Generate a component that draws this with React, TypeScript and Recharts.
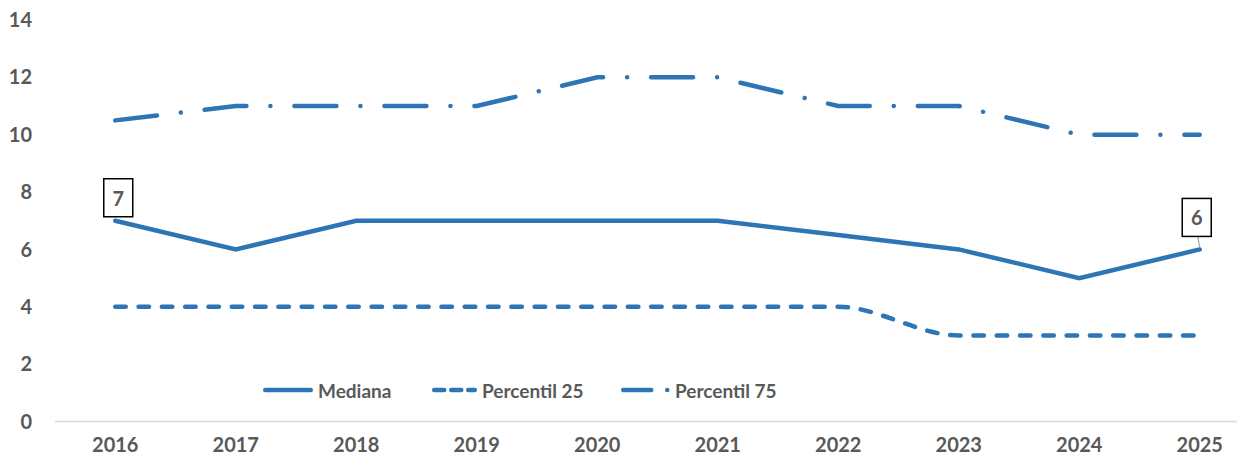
import React from 'react';
import { LineChart, Line, XAxis, YAxis } from 'recharts';

const years = ['2016', '2017', '2018', '2019', '2020', '2021', '2022', '2023', '2024', '2025'];
const mediana = [7, 6, 7, 7, 7, 7, 6.5, 6, 5, 6];
const percentil25 = [4, 4, 4, 4, 4, 4, 4, 3, 3, 3];
const percentil75 = [10.5, 11, 11, 11, 12, 12, 11, 11, 10, 10];
const yTicks = [0, 2, 4, 6, 8, 10, 12, 14];

const data = years.map((year, i) => ({
    year,
    Mediana: mediana[i],
    P25: percentil25[i],
    P75: percentil75[i],
}));

const BLUE = '#2E75B6';
const TEXT = '#595959';
const FONT = 'Lato, "Open Sans", sans-serif';

const tickStyle = { fill: TEXT, fontSize: 20, fontWeight: 700, fontFamily: FONT };

// boxed labels on first and last point of the median
const MedianLabel = (props: any) => {
    const { x, y, index, value } = props;
    if (index !== 0 && index !== years.length - 1) return null;
    const first = index === 0;
    const cx = first ? x + 3 : x - 3;
    const top = first ? y - 42 : y - 51;
    return (
        <g>
            {!first && <line x1={x - 2} y1={y - 13} x2={x} y2={y - 2} stroke="#a6a6a6" strokeWidth={1.2} />}
            <rect x={cx - 14.5} y={top} width={29} height={38} fill="#fff" stroke="#000" strokeWidth={1.5} />
            <text x={cx} y={top + 19} textAnchor="middle" dominantBaseline="central" style={tickStyle}>
                {value}
            </text>
        </g>
    );
};

const legendItems = [
    { name: 'Mediana', left: 263, width: 50, dash: undefined },
    { name: 'Percentil 25', left: 432, width: 45, dash: '10 7' },
    { name: 'Percentil 75', left: 621, width: 49, dash: '28 16 0.01 30' },
];

export default function App() {
    return (
        <div style={{ position: 'absolute', left: 0, top: 0, width: 1237, height: 463, overflow: 'hidden', background: '#fff' }}>
            <LineChart width={1260} height={463} data={data} margin={{ top: 20, right: 0, bottom: 0, left: 0 }}>
                <XAxis
                    dataKey="year"
                    scale="band"
                    height={41.5}
                    tickLine={false}
                    axisLine={{ stroke: '#d9d9d9', strokeWidth: 1.5 }}
                    tick={tickStyle}
                    tickMargin={10}
                />
                <YAxis
                    domain={[0, 14]}
                    ticks={yTicks}
                    width={55}
                    axisLine={false}
                    tickLine={false}
                    tick={tickStyle}
                    tickMargin={17}
                />
                <Line
                    type="linear"
                    dataKey="P75"
                    stroke={BLUE}
                    strokeWidth={4.5}
                    strokeLinecap="round"
                    strokeDasharray="42 24 0.01 24"
                    dot={false}
                    isAnimationActive={false}
                />
                <Line
                    type="monotone"
                    dataKey="P25"
                    stroke={BLUE}
                    strokeWidth={4.5}
                    strokeLinecap="round"
                    strokeDasharray="10.5 12.8"
                    dot={false}
                    isAnimationActive={false}
                />
                <Line
                    type="linear"
                    dataKey="Mediana"
                    stroke={BLUE}
                    strokeWidth={4.5}
                    strokeLinecap="round"
                    dot={false}
                    label={<MedianLabel />}
                    isAnimationActive={false}
                />
            </LineChart>
            {legendItems.map(item => (
                <div
                    key={item.name}
                    style={{ position: 'absolute', left: item.left, top: 377, height: 26, display: 'flex', alignItems: 'center' }}
                >
                    <svg width={item.width} height={10} style={{ display: 'block' }}>
                        <line
                            x1={2.25}
                            y1={5}
                            x2={item.width - 2.25}
                            y2={5}
                            stroke={BLUE}
                            strokeWidth={4.5}
                            strokeLinecap="round"
                            strokeDasharray={item.dash}
                        />
                    </svg>
                    <span style={{ marginLeft: 5, color: TEXT, fontSize: 19, fontWeight: 700, fontFamily: FONT }}>{item.name}</span>
                </div>
            ))}
        </div>
    );
}
